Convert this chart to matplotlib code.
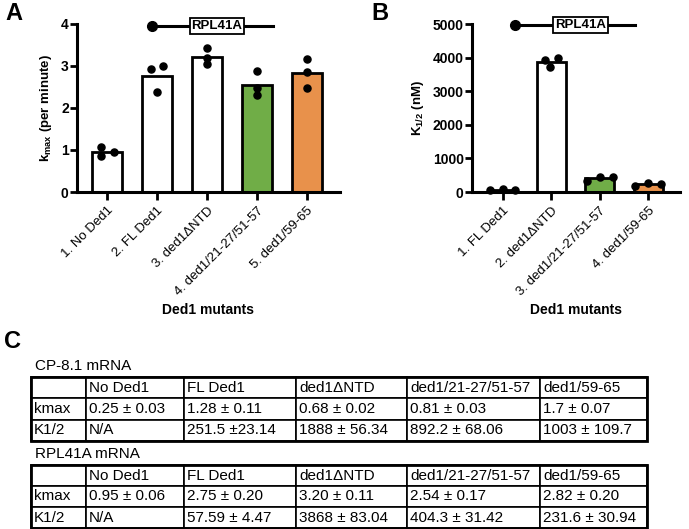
import numpy as np
import matplotlib
matplotlib.use("Agg")
import matplotlib.pyplot as plt
from matplotlib.patches import Rectangle

plt.rcParams['font.family'] = ['Liberation Sans', 'DejaVu Sans']
plt.rcParams['mathtext.fontset'] = 'custom'
plt.rcParams['mathtext.bf'] = 'Liberation Sans:bold'
plt.rcParams['mathtext.rm'] = 'Liberation Sans'

# panel A data (RPL41A, kmax)
a_labels = ['1. No Ded1', '2. FL Ded1', '3. ded1\u0394NTD', '4. ded1/21-27/51-57', '5. ded1/59-65']
a_kmax = [0.95, 2.75, 3.20, 2.54, 2.82]
a_reps = [[1.06, 0.86, 0.95], [2.91, 2.99, 2.37], [3.41, 3.17, 3.03],
          [2.88, 2.48, 2.30], [3.15, 2.86, 2.47]]

# panel B data (RPL41A, K1/2)
b_labels = ['1. FL Ded1', '2. ded1\u0394NTD', '3. ded1/21-27/51-57', '4. ded1/59-65']
b_k12 = [57.59, 3868, 404.3, 231.6]
b_reps = [[45, 75, 53], [3926, 3728, 3996], [340, 440, 433], [190, 280, 225]]

# table data
col_names = ['', 'No Ded1', 'FL Ded1', 'ded1\u0394NTD', 'ded1/21-27/51-57', 'ded1/59-65']
cp_kmax = ['0.25 \u00b1 0.03', '1.28 \u00b1 0.11', '0.68 \u00b1 0.02', '0.81 \u00b1 0.03', '1.7 \u00b1 0.07']
cp_k12 = ['N/A', '251.5 \u00b123.14', '1888 \u00b1 56.34', '892.2 \u00b1 68.06', '1003 \u00b1 109.7']
rpl_kmax = ['0.95 \u00b1 0.06', '2.75 \u00b1 0.20', '3.20 \u00b1 0.11', '2.54 \u00b1 0.17', '2.82 \u00b1 0.20']
rpl_k12 = ['N/A', '57.59 \u00b1 4.47', '3868 \u00b1 83.04', '404.3 \u00b1 31.42', '231.6 \u00b1 30.94']

green = '#70AD47'
orange = '#E8914B'
a_colors = ['white', 'white', 'white', green, orange]
b_colors = ['white', 'white', green, orange]
# horizontal spread of replicate dots (layout only)
a_spread = [[-0.12, -0.12, 0.13], [-0.13, 0.12, 0.0], [0, 0, 0], [0, 0, 0], [0, 0, 0]]
b_spread = [[-0.27, 0.0, 0.25], [-0.14, -0.02, 0.14], [-0.27, 0.0, 0.27], [-0.27, 0.0, 0.27]]

W, H = 689, 529
fig = plt.figure(figsize=(W / 100, H / 100), dpi=100)

def px_axes(x0, x1, y0, y1):
    # pixel box (top-left origin) -> figure axes
    return fig.add_axes([x0 / W, 1 - y1 / H, (x1 - x0) / W, (y1 - y0) / H])

def bar_panel(ax, labels, vals, reps, spread, colors, ymax, ystep, ylabel, ylab_size,
              line_x, line_y, box_x):
    x = np.arange(len(vals))
    ax.bar(x, vals, width=0.6, color=colors, edgecolor='black', linewidth=2.0, zorder=2)
    for i in range(len(vals)):
        ax.scatter(x[i] + np.array(spread[i]), reps[i], s=26, color='black', zorder=3,
                   clip_on=False)
    ax.set_ylim(0, ymax)
    ax.set_yticks(np.arange(0, ymax + 1, ystep))
    ax.set_xticks(x)
    ax.set_xticklabels(labels, rotation=45, ha='right', rotation_mode='anchor', fontsize=9.5)
    for lab in ax.get_yticklabels():
        lab.set_fontweight('bold')
    ax.tick_params(axis='y', labelsize=10, width=2.0, length=5, pad=1)
    ax.tick_params(axis='x', width=2.0, length=6, pad=3)
    for s in ['top', 'right']:
        ax.spines[s].set_visible(False)
    for s in ['left', 'bottom']:
        ax.spines[s].set_linewidth(2.2)
    ax.set_ylabel(ylabel, fontsize=ylab_size, fontweight='bold', labelpad=5)
    ax.set_xlabel('Ded1 mutants', fontsize=10, fontweight='bold', labelpad=4)
    # RPL41A construct marker
    ax.plot(line_x, [line_y, line_y], color='black', linewidth=2.2, zorder=4, clip_on=False)
    ax.plot(line_x[0], line_y, 'o', color='black', markersize=7, zorder=5, clip_on=False)
    ax.text(box_x, line_y, 'RPL41A', fontsize=9.5,
            fontweight='bold', ha='center', va='center', zorder=6,
            bbox=dict(boxstyle='square,pad=0.15', facecolor='white', edgecolor='black', linewidth=1.3))

axA = px_axes(77, 340, 23.5, 192)
axA.set_xlim(-0.6, 4.66)
bar_panel(axA, a_labels, a_kmax, a_reps, a_spread, a_colors, 4, 1,
          r'$\mathbf{k_{max}}$ (per minute)', 9.5, [0.9, 3.32], 3.94, 2.2)

axB = px_axes(472, 680, 24, 192)
axB.set_xlim(-0.64, 3.66)
bar_panel(axB, b_labels, b_k12, b_reps, b_spread, b_colors, 5000, 1000,
          r'$\mathbf{K_{1/2}}$ (nM)', 9.5, [0.25, 2.73], 4970, 1.6)

# panel letters
fig.text(5 / W, 1 - 14 / H, 'A', fontsize=17, fontweight='bold', va='center', ha='left')
fig.text(371 / W, 1 - 14 / H, 'B', fontsize=17, fontweight='bold', va='center', ha='left')
fig.text(4 / W, 1 - 341 / H, 'C', fontsize=17, fontweight='bold', va='center', ha='left')

# tables
col_px = [55, 98, 112, 111, 133, 107]
tab_x0 = 31
tab_w = sum(col_px)

def draw_table(title, kmax_row, k12_row, top, height):
    fig.text(35 / W, 1 - (top - 11) / H, title, fontsize=11, va='center', ha='left')
    tax = px_axes(tab_x0, tab_x0 + tab_w, top, top + height)
    tax.axis('off')
    rows = [col_names, ['kmax'] + kmax_row, ['K1/2'] + k12_row]
    tb = tax.table(cellText=rows, colWidths=[c / tab_w for c in col_px],
                   cellLoc='left', bbox=[0, 0, 1, 1])
    tb.auto_set_font_size(False)
    for (r, c), cell in tb.get_celld().items():
        cell.set_linewidth(1.2)
        cell.set_edgecolor('black')
        cell.PAD = 3.0 / col_px[c]
        cell.get_text().set_fontsize(11)
    tax.add_patch(Rectangle((0, 0), 1, 1, transform=tax.transAxes, fill=False,
                            linewidth=2.0, edgecolor='black', clip_on=False))

draw_table('CP-8.1 mRNA', cp_kmax, cp_k12, 377, 64)
draw_table('RPL41A mRNA', rpl_kmax, rpl_k12, 465, 63)

fig.savefig('out.png', dpi=100)
